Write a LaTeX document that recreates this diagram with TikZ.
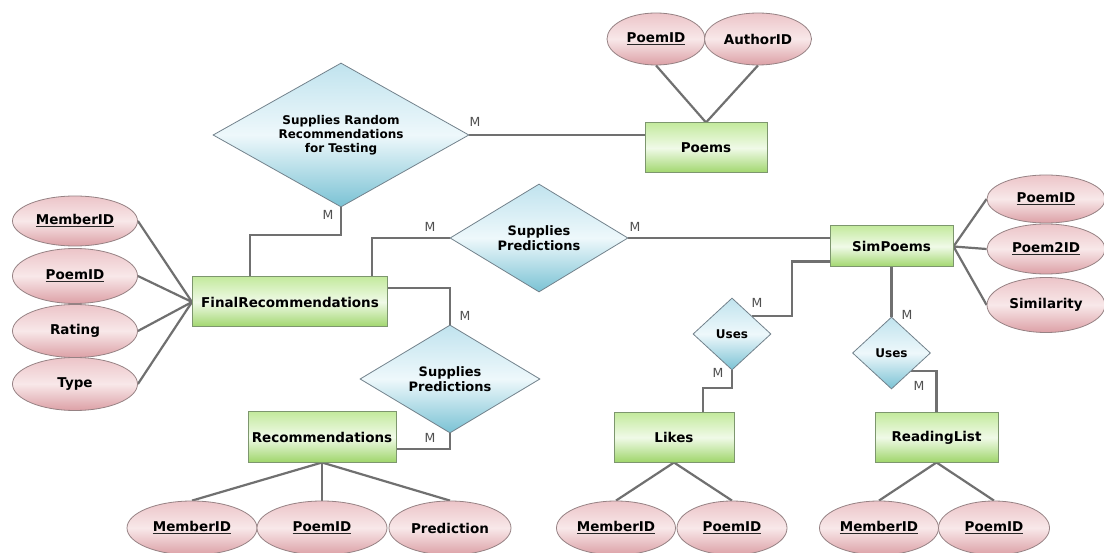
\documentclass[tikz,border=0pt]{standalone}
\usepackage{fontspec}
\setmainfont{DejaVu Sans}
\usetikzlibrary{shapes.geometric,backgrounds}

\definecolor{linegray}{RGB}{112,112,112}
\definecolor{cardgray}{RGB}{80,80,80}
\definecolor{entBorder}{RGB}{125,150,110}
\definecolor{entTop}{RGB}{196,234,158}
\definecolor{entMid}{RGB}{240,250,232}
\definecolor{entBot}{RGB}{160,214,108}
\definecolor{attBorder}{RGB}{150,130,132}
\definecolor{attTop}{RGB}{236,196,200}
\definecolor{attMid}{RGB}{248,232,233}
\definecolor{attBot}{RGB}{220,160,166}
\definecolor{relBorder}{RGB}{115,130,140}
\definecolor{relTop}{RGB}{192,227,238}
\definecolor{relMid}{RGB}{238,248,251}
\definecolor{relBot}{RGB}{122,194,212}
\definecolor{ulgray}{RGB}{40,40,40}

% key attributes are underlined with a firm rule
\newcommand\keyattr[1]{\setbox0\hbox{#1}\rlap{\color{ulgray}\rule[-2.4pt]{\wd0}{1pt}}\box0}

\tikzset{
  entity/.style={rectangle, draw=entBorder, line width=1pt,
    top color=entTop, bottom color=entBot, middle color=entMid,
    inner sep=0pt, font=\fontsize{13.5}{16}\selectfont\bfseries},
  attr/.style={ellipse, draw=attBorder, line width=0.8pt,
    top color=attTop, bottom color=attBot, middle color=attMid,
    inner sep=0pt, font=\fontsize{13.5}{16}\selectfont\bfseries},
  rel/.style={diamond, draw=relBorder, line width=0.8pt,
    top color=relTop, bottom color=relBot, middle color=relMid,
    inner sep=0pt, align=center},
  conn/.style={draw=linegray, line width=2.2pt},
  card/.style={font=\fontsize{12.5}{14}\selectfont, text=cardgray, inner sep=0pt}
}

\begin{document}
\begin{tikzpicture}[x=1pt,y=-1pt]
\useasboundingbox (0,0) rectangle (1104,553);

% entities
\node[entity, minimum width=122, minimum height=50] (poems) at (706,148) {Poems};
\node[entity, minimum width=195, minimum height=50] (fr) at (290,302) {FinalRecommendations};
\node[entity, minimum width=123, minimum height=41] (sim) at (891.5,246.5) {SimPoems};
\node[entity, minimum width=148, minimum height=50] (rec) at (322,437) {Recommendations};
\node[entity, minimum width=120, minimum height=49] (likes) at (674,437.5) {Likes};
\node[entity, minimum width=123, minimum height=49] (rl) at (936.5,437.5) {ReadingList};

% relationships
\node[rel, aspect=1.78, minimum width=256, minimum height=144,
  font=\fontsize{12}{14}\selectfont\bfseries] (bd) at (341,135)
  {Supplies Random\\Recommendations\\for Testing};
\node[rel, aspect=1.65, minimum width=178, minimum height=108,
  font=\fontsize{13}{15}\selectfont\bfseries] (sp1) at (539,238)
  {Supplies\\Predictions};
\node[rel, aspect=1.65, minimum width=180, minimum height=108,
  font=\fontsize{13}{15}\selectfont\bfseries] (sp2) at (450,379)
  {Supplies\\Predictions};
\node[rel, aspect=1.08, minimum width=78, minimum height=72,
  font=\fontsize{12}{14}\selectfont\bfseries] (u1) at (732,334) {Uses};
\node[rel, aspect=1.08, minimum width=78, minimum height=72,
  font=\fontsize{12}{14}\selectfont\bfseries] (u2) at (891.5,353) {Uses};

% attributes of Poems
\node[attr, minimum width=98, minimum height=52] (pa1) at (656,39) {\keyattr{PoemID}};
\node[attr, minimum width=107, minimum height=52] (pa2) at (758,39) {AuthorID};

% attributes of FinalRecommendations
\node[attr, minimum width=125, minimum height=50] (fa1) at (75,221) {\keyattr{MemberID}};
\node[attr, minimum width=125, minimum height=55] (fa2) at (75,276) {\keyattr{PoemID}};
\node[attr, minimum width=125, minimum height=53] (fa3) at (75,331) {Rating};
\node[attr, minimum width=125, minimum height=53] (fa4) at (75,384) {Type};

% attributes of SimPoems
\node[attr, minimum width=118, minimum height=48] (sa1) at (1046,199) {\keyattr{PoemID}};
\node[attr, minimum width=118, minimum height=50] (sa2) at (1046,249) {\keyattr{Poem2ID}};
\node[attr, minimum width=118, minimum height=55] (sa3) at (1046,305) {Similarity};

% attributes of Recommendations
\node[attr, minimum width=130, minimum height=54] (ra1) at (192,528) {\keyattr{MemberID}};
\node[attr, minimum width=130, minimum height=54] (ra2) at (322,528) {\keyattr{PoemID}};
\node[attr, minimum width=122, minimum height=54] (ra3) at (450,528) {Prediction};

% attributes of Likes
\node[attr, minimum width=119, minimum height=54] (la1) at (616,528) {\keyattr{MemberID}};
\node[attr, minimum width=110, minimum height=54] (la2) at (732,528) {\keyattr{PoemID}};

% attributes of ReadingList
\node[attr, minimum width=119, minimum height=54] (ka1) at (879,528) {\keyattr{MemberID}};
\node[attr, minimum width=111, minimum height=54] (ka2) at (994,528) {\keyattr{PoemID}};

% connectors
\begin{scope}[on background layer]
\fill[white] (0,0) rectangle (1104,553);
\draw[conn] (bd.east) -- (bd.east -| poems.west);
\draw[conn] (pa1.south) -- (poems.north);
\draw[conn] (pa2.south) -- (poems.north);
\draw[conn] (bd.south) -- ++(0,28) -| ([xshift=58pt]fr.north west);
\draw[conn] (sp1.west) -| ([xshift=180pt]fr.north west);
\draw[conn] (sp1.east) -- (sp1.east -| sim.west);
\draw[conn] ([yshift=14pt]fr.east) -| (sp2.north);
\draw[conn] (sp2.south) |- ([yshift=-12pt]rec.east);
\draw[conn] (u1.north east) -- ++(40,0) |- ([yshift=-15pt]sim.west);
\draw[conn] (u1.south) -- ++(0,18) -| ([xshift=29pt]likes.north);
\draw[conn] (sim.south) -- (u2.north);
\draw[conn] (u2.south east) -| (rl.north);
\foreach \a in {fa1,fa2,fa3,fa4} \draw[conn] (\a.east) -- (fr.west);
\foreach \a in {sa1,sa2,sa3} \draw[conn] (sim.east) -- (\a.west);
\foreach \a in {ra1,ra2,ra3} \draw[conn] (rec.south) -- (\a.north);
\foreach \a in {la1,la2} \draw[conn] (likes.south) -- (\a.north);
\foreach \a in {ka1,ka2} \draw[conn] (rl.south) -- (\a.north);
\end{scope}

% cardinalities
\node[card] (c1) at (475,122) {M};
\node[card] (c2) at (328,215) {M};
\node[card] (c3) at (430,227) {M};
\node[card] (c4) at (635,227) {M};
\node[card] (c5) at (465,316) {M};
\node[card] (c6) at (430,438) {M};
\node[card] (c7) at (757,303) {M};
\node[card] (c8) at (718,373) {M};
\node[card] (c9) at (907,315) {M};
\node[card] (c10) at (919,386) {M};
\end{tikzpicture}
\end{document}
